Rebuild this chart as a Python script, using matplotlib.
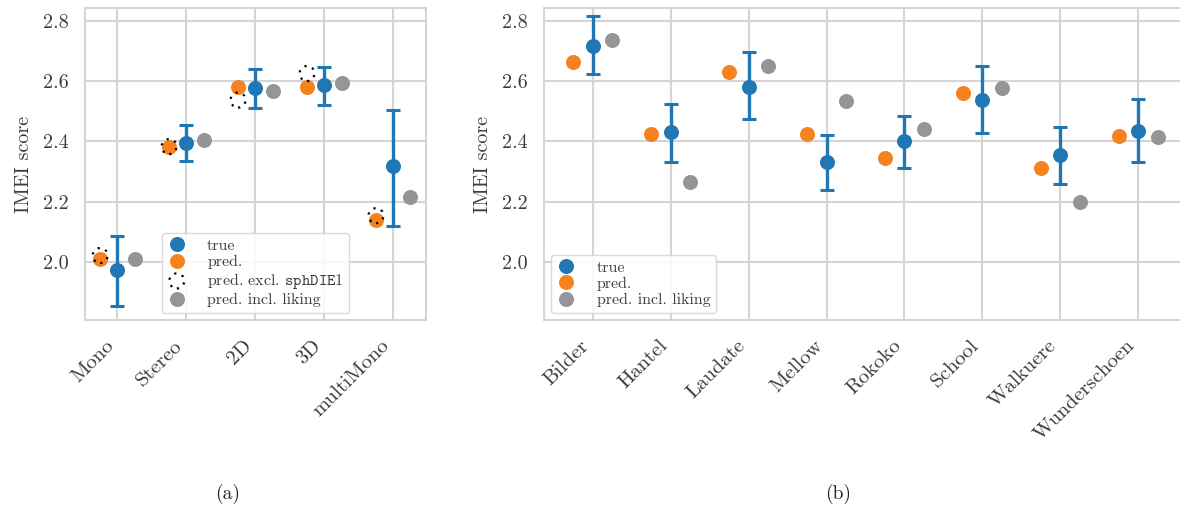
import numpy as np
import matplotlib
matplotlib.use('Agg')
import matplotlib.pyplot as plt
from matplotlib.lines import Line2D

plt.rcParams['font.family'] = 'serif'
plt.rcParams['font.serif'] = ['cmr10', 'DejaVu Serif']
plt.rcParams['mathtext.fontset'] = 'cm'
plt.rcParams['axes.formatter.use_mathtext'] = True

# (a) reproduction conditions
conditions = ['Mono', 'Stereo', '2D', '3D', 'multiMono']
true_a = [1.973, 2.394, 2.577, 2.588, 2.320]
lo_a = [1.856, 2.336, 2.510, 2.522, 2.121]
hi_a = [2.087, 2.456, 2.640, 2.648, 2.503]
pred_a = [2.012, 2.383, 2.580, 2.580, 2.140]
excl_a = [2.022, 2.383, 2.537, 2.625, 2.154]
liking_a = [2.010, 2.405, 2.568, 2.593, 2.215]

# (b) stimuli
stimuli = ['Bilder', 'Hantel', 'Laudate', 'Mellow', 'Rokoko', 'School', 'Walkuere', 'Wunderschoen']
true_b = [2.715, 2.432, 2.580, 2.332, 2.400, 2.538, 2.356, 2.433]
lo_b = [2.622, 2.333, 2.475, 2.238, 2.313, 2.427, 2.258, 2.332]
hi_b = [2.815, 2.525, 2.695, 2.420, 2.485, 2.649, 2.449, 2.542]
pred_b = [2.662, 2.424, 2.630, 2.423, 2.346, 2.562, 2.311, 2.417]
liking_b = [2.736, 2.266, 2.651, 2.534, 2.442, 2.577, 2.198, 2.415]

c_true = '#1f77b4'
c_pred = '#f5821f'
c_like = '#939598'
c_grid = '#d4d4d4'
c_text = '#3c3c3c'
ms = 10.8
dodge = 0.25


def style_axes(ax, labels):
    ax.set_facecolor('white')
    ax.grid(True, color=c_grid, lw=1.5, zorder=0)
    ax.set_axisbelow(True)
    for sp in ax.spines.values():
        sp.set_color(c_grid)
        sp.set_linewidth(1.5)
    ax.set_xticks(range(len(labels)))
    ax.set_xticklabels(labels, rotation=45, ha='right', fontsize=15)
    ax.set_yticks([2.0, 2.2, 2.4, 2.6, 2.8])
    ax.set_yticklabels(['2.0', '2.2', '2.4', '2.6', '2.8'], fontsize=14.5)
    ax.tick_params(length=0, pad=12, colors=c_text)
    ax.set_ylim(1.8085, 2.842)
    ax.set_ylabel('IMEI score', fontsize=14.5, color=c_text, labelpad=7)


def draw_panel(ax, true, lo, hi, pred, liking):
    x = np.arange(len(true))
    t = np.array(true)
    yerr = [t - np.array(lo), np.array(hi) - t]
    ax.errorbar(x, t, yerr=yerr, fmt='none', ecolor=c_true, elinewidth=2.4,
                capsize=5.3, capthick=2.2, zorder=3)
    ax.plot(x, t, 'o', color=c_true, ms=ms, mec='none', zorder=4)
    ax.plot(x - dodge, pred, 'o', color=c_pred, ms=ms, mec='none', zorder=3)
    ax.plot(x + dodge, liking, 'o', color=c_like, ms=ms, mec='none', zorder=3)


fig = plt.figure(figsize=(11.8, 5.07), dpi=100)
ax1 = fig.add_axes([85 / 1180, 1 - 320 / 507, 341 / 1180, 312 / 507])
ax2 = fig.add_axes([544 / 1180, 1 - 320 / 507, 641 / 1180, 312 / 507])

style_axes(ax1, conditions)
draw_panel(ax1, true_a, lo_a, hi_a, pred_a, liking_a)
ax1.scatter(np.arange(len(excl_a)) - dodge, excl_a, s=ms ** 2, facecolors='none',
            edgecolors='black', linewidths=1.6, linestyles=(0, (1, 2.6)), zorder=5)
ax1.set_xlim(-0.47, 4.475)

style_axes(ax2, stimuli)
draw_panel(ax2, true_b, lo_b, hi_b, pred_b, liking_b)
ax2.set_xlim(-0.625, 7.6)

h_true = Line2D([], [], ls='none', marker='o', color=c_true, ms=ms, mec='none')
h_pred = Line2D([], [], ls='none', marker='o', color=c_pred, ms=ms, mec='none')
h_like = Line2D([], [], ls='none', marker='o', color=c_like, ms=ms, mec='none')
h_excl = ax1.scatter([], [], s=ms ** 2, facecolors='none', edgecolors='black',
                     linewidths=1.6, linestyles=(0, (1, 2.6)))

leg_kw = dict(fontsize=11.5, frameon=True, edgecolor=c_grid, framealpha=0.85,
              labelcolor=c_text, labelspacing=0.12, handletextpad=1.3,
              borderpad=0.35, handlelength=1.2, borderaxespad=0.45)
ax1.legend([h_true, h_pred, h_excl, h_like],
           ['true', 'pred.', r'pred. excl. $\mathtt{sphDIE1}$', 'pred. incl. liking'],
           loc='lower center', **leg_kw)
ax2.legend([h_true, h_pred, h_like], ['true', 'pred.', 'pred. incl. liking'],
           loc='lower left', **leg_kw)

fig.text(228 / 1180, 1 - 494 / 507, '(a)', ha='center', va='center', fontsize=14, color='#222222')
fig.text(838 / 1180, 1 - 494 / 507, '(b)', ha='center', va='center', fontsize=14, color='#222222')

fig.savefig('out.png', dpi=100)
